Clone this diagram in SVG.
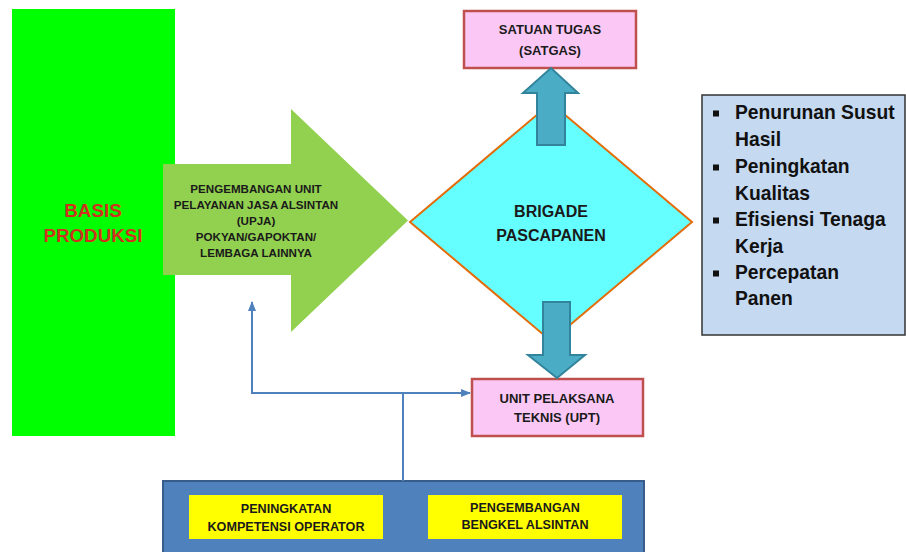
<svg xmlns="http://www.w3.org/2000/svg" width="906" height="552" viewBox="0 0 906 552">
<style>
text{font-family:"Liberation Sans",Arial,sans-serif;font-weight:bold;fill:#1a1a1a;text-anchor:middle}
.pink{fill:#FBC8F6;stroke:#C0504D;stroke-width:2.5}
.blk{fill:#4BACC6;stroke:#31849B;stroke-width:2}
.conn{fill:none;stroke:#4F81BD;stroke-width:2}
.yel{fill:#FFFF00}
.lst{text-anchor:start;font-size:19.3px;fill:#111}
</style>
<defs>
<marker id="ah" markerUnits="userSpaceOnUse" markerWidth="10" markerHeight="8" refX="9" refY="4" orient="auto">
<path d="M0,0 L10,4 L0,8 Z" fill="#4F81BD"/>
</marker>
</defs>
<rect width="906" height="552" fill="#fff"/>
<g id="basis">
<rect x="12" y="9" width="163" height="427" fill="#00FF00"/>
<text x="93" y="217" style="font-size:18.8px;fill:#D0311F">BASIS</text>
<text x="93" y="242" style="font-size:18.8px;fill:#D0311F">PRODUKSI</text>
</g>
<g id="upja">
<polygon points="163,164 291,164 291,109 408,220.5 291,332 291,275 163,275" fill="#92D050"/>
<g style="font-size:11.6px">
<text x="256" y="193">PENGEMBANGAN UNIT</text>
<text x="256" y="209">PELAYANAN JASA ALSINTAN</text>
<text x="256" y="225">(UPJA)</text>
<text x="256" y="241">POKYAN/GAPOKTAN/</text>
<text x="256" y="257">LEMBAGA LAINNYA</text>
</g>
</g>
<g id="brigade">
<polygon points="410,222 551,103 692,222 551,341" fill="#66FFFF" stroke="#E36C09" stroke-width="2"/>
<text x="551" y="217" style="font-size:16px">BRIGADE</text>
<text x="551" y="241" style="font-size:16px">PASCAPANEN</text>
</g>
<g id="satgas">
<rect class="pink" x="464" y="11" width="172" height="57"/>
<text x="550" y="34" style="font-size:13px">SATUAN TUGAS</text>
<text x="550" y="55" style="font-size:13px">(SATGAS)</text>
</g>
<g id="upt">
<rect class="pink" x="472" y="379" width="171" height="57"/>
<text x="557" y="403" style="font-size:13px">UNIT PELAKSANA</text>
<text x="557" y="422" style="font-size:13px">TEKNIS (UPT)</text>
</g>
<g id="arrow-up">
<polygon class="blk" points="537,145 537,93 523,93 551,68 578,93 565,93 565,145"/>
</g>
<g id="arrow-down">
<polygon class="blk" points="543,302 570,302 570,355 585,355 557,378 528,355 543,355"/>
</g>
<g id="hasil">
<rect x="702" y="95" width="203" height="240" fill="#C5D9F1" stroke="#333" stroke-width="1.5"/>
<g fill="#111">
<rect x="713" y="110.5" width="6" height="6"/>
<rect x="713" y="164.5" width="6" height="6"/>
<rect x="713" y="217.5" width="6" height="6"/>
<rect x="713" y="270.5" width="6" height="6"/>
</g>
<text class="lst" x="735" y="119">Penurunan Susut</text>
<text class="lst" x="735" y="146">Hasil</text>
<text class="lst" x="735" y="173">Peningkatan</text>
<text class="lst" x="735" y="200">Kualitas</text>
<text class="lst" x="735" y="226">Efisiensi Tenaga</text>
<text class="lst" x="735" y="253">Kerja</text>
<text class="lst" x="735" y="279">Percepatan</text>
<text class="lst" x="735" y="305">Panen</text>
</g>
<g id="support">
<rect x="163" y="481" width="481" height="80" fill="#4F81BD" stroke="#385D8A" stroke-width="2"/>
<rect class="yel" x="189" y="495" width="194" height="44"/>
<rect class="yel" x="428" y="495" width="194" height="44"/>
<text x="286" y="513" style="font-size:12.6px">PENINGKATAN</text>
<text x="286" y="531" style="font-size:12.6px">KOMPETENSI OPERATOR</text>
<text x="525" y="512" style="font-size:12.6px">PENGEMBANGAN</text>
<text x="525" y="529" style="font-size:12.6px">BENGKEL ALSINTAN</text>
</g>
<g id="connectors">
<path class="conn" d="M403,481 V393"/>
<path class="conn" d="M403,393 H470" marker-end="url(#ah)"/>
<path class="conn" d="M403,393 H252 V302" marker-end="url(#ah)"/>
</g>
</svg>
